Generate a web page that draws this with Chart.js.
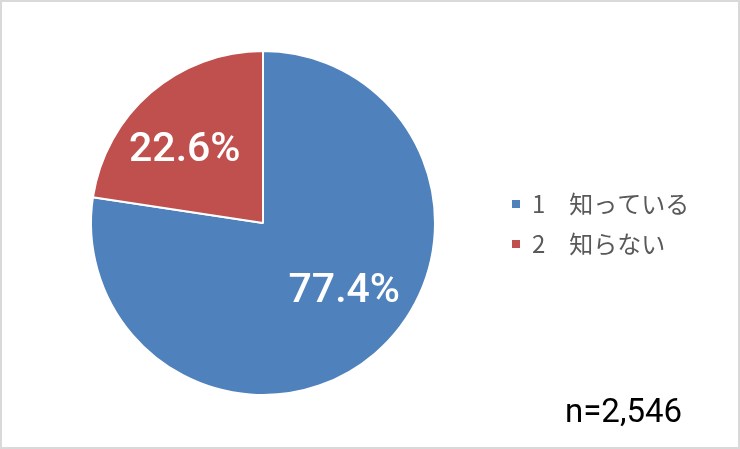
<!DOCTYPE html>
<html>
<head>
<meta charset="utf-8">
<script src="https://cdn.jsdelivr.net/npm/chart.js@4.4.0/dist/chart.umd.min.js"></script>
<style>
  html, body { margin: 0; padding: 0; background: #fff; }
  canvas { display: block; }
</style>
</head>
<body>
<canvas id="ninchido" width="740" height="449"></canvas>
<script>
// 回答データ
const categories = ['1　知っている', '2　知らない'];
const percentages = [77.4, 22.6];
const sampleText = 'n=2,546';
const sliceColors = ['#4f81bd', '#c0504d'];

// ラベル・凡例・枠を描くプラグイン
const extras = {
    id: 'extras',
    afterDraw(chart) {
        const ctx = chart.ctx;
        const meta = chart.getDatasetMeta(0);
        const shift = [-9, -6.5]; // ラベル位置の角度補正（度）
        ctx.save();

        // パーセント表示
        ctx.fillStyle = '#ffffff';
        ctx.font = '500 41px Roboto';
        ctx.textAlign = 'center';
        ctx.textBaseline = 'middle';
        meta.data.forEach(function (arc, i) {
            const p = arc.getProps(['x', 'y', 'startAngle', 'endAngle', 'outerRadius']);
            const mid = (p.startAngle + p.endAngle) / 2 + shift[i] * Math.PI / 180;
            const r = p.outerRadius * 0.62;
            ctx.fillText(percentages[i].toFixed(1) + '%', p.x + Math.cos(mid) * r, p.y + Math.sin(mid) * r);
        });

        // 凡例
        ctx.textAlign = 'left';
        ctx.font = '24px "Noto Sans CJK JP"';
        categories.forEach(function (label, i) {
            const y = 204 + i * 40;
            ctx.fillStyle = sliceColors[i];
            ctx.fillRect(512, y - 4, 8, 8);
            ctx.fillStyle = '#595959';
            ctx.fillText(label, 532, y);
        });

        // n数
        ctx.fillStyle = '#000000';
        ctx.font = '33px Roboto';
        ctx.textBaseline = 'alphabetic';
        ctx.fillText(sampleText, 565, 422);

        // 枠線
        ctx.strokeStyle = '#d9d9d9';
        ctx.lineWidth = 2;
        ctx.strokeRect(1, 1, 738, 447);
        ctx.restore();
    }
};

const config = {
    type: 'pie',
    data: {
        labels: categories,
        datasets: [{
            data: percentages,
            backgroundColor: sliceColors,
            borderColor: '#ffffff',
            borderWidth: 2
        }]
    },
    options: {
        responsive: false,
        animation: false,
        layout: {
            padding: { left: 90, right: 304, top: 50, bottom: 53 }
        },
        plugins: {
            legend: { display: false },
            tooltip: { enabled: false }
        }
    },
    plugins: [extras]
};

const context = document.getElementById('ninchido').getContext('2d');
const pieChart = new Chart(context, config);
</script>
</body>
</html>
